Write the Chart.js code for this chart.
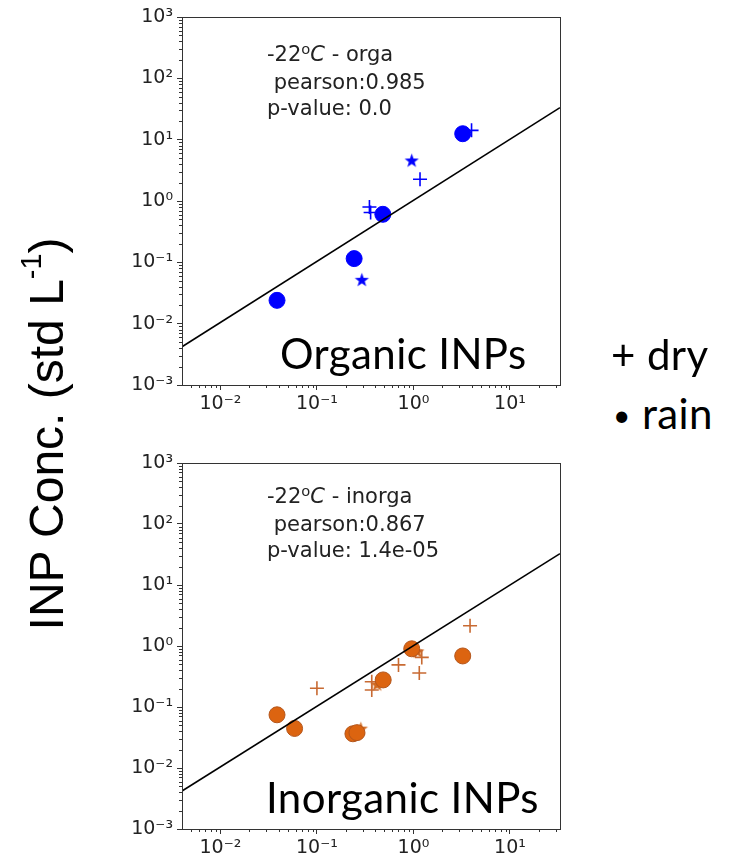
<!DOCTYPE html>
<html>
<head>
<meta charset="utf-8">
<script src="https://cdn.jsdelivr.net/npm/chart.js@4.4.1/dist/chart.umd.min.js"></script>
<style>
  html, body { margin: 0; padding: 0; background: #fff; overflow: hidden; }
  #page { position: relative; width: 735px; height: 862px; }
  canvas { position: absolute; left: 0; }
  .note { position: absolute; font-family: "DejaVu Sans", sans-serif; font-size: 21px; line-height: 26px; color: #222; white-space: pre; }
  .note sup { font-size: 70%; vertical-align: 0; position: relative; top: -0.5em; }
  .big { position: absolute; font-family: Lato, "Open Sans", sans-serif; font-size: 42px; line-height: 42px; letter-spacing: 0.4px; color: #000; white-space: pre; }
  #ytitle { position: absolute; font-family: "Liberation Sans", Arial, sans-serif; font-size: 48px; line-height: 48px; width: 520px; text-align: center; white-space: pre;
            left: -210px; top: 407px; transform: rotate(-90deg); transform-origin: 50% 50%; }
  #ytitle sup { font-size: 60%; vertical-align: 0; position: relative; top: -0.75em; }
  .bullet { font-size: 30px; position: relative; top: -3px; }
</style>
</head>
<body>
<div id="page">
  <canvas id="chartTop" width="600" height="418" style="top:0px"></canvas>
  <canvas id="chartBottom" width="600" height="416" style="top:446px"></canvas>

  <div class="note" style="left:267px; top:41px">-22<sup>o</sup><i>C</i> - orga
 pearson:0.985
p-value: 0.0</div>
  <div class="note" style="left:267px; top:483px">-22<sup>o</sup><i>C</i> - inorga
 pearson:0.867
p-value: 1.4e-05</div>

  <div class="big" style="left:280px; top:332px">Organic INPs</div>
  <div class="big" style="left:266px; top:776px">Inorganic INPs</div>
  <div class="big" style="left:611px; top:333px">+ dry</div>
  <div class="big" style="left:613px; top:392px"><span class="bullet">&bull;</span> rain</div>

  <div id="ytitle">INP Conc. (std L<sup>-1</sup>)</div>
</div>

<script>
// axis ranges and ticks
const xMin = 0.004, xMax = 33;
const yMin = 0.001, yMax = 1000;
const xTicks = [0.01, 0.1, 1, 10];
const yTicks = [0.001, 0.01, 0.1, 1, 10, 100, 1000];
const tickLabels = { '-3': '10⁻³', '-2': '10⁻²', '-1': '10⁻¹', '0': '10⁰', '1': '10¹', '2': '10²', '3': '10³' };

// organic panel (top)
const orgRainX = [0.0386, 0.243, 0.482, 3.24];
const orgRainY = [0.024, 0.115, 0.607, 12.5];
const orgDryX = [0.35, 0.36, 1.17, 4.0];
const orgDryY = [0.8, 0.65, 2.26, 14.2];
const orgStarX = [0.292, 0.96];
const orgStarY = [0.051, 4.49];
const orgFitX = [0.004, 33];
const orgFitY = [0.0042, 33.3];

// inorganic panel (bottom)
const inoRainX = [0.0386, 0.0587, 0.236, 0.26, 0.486, 0.96, 3.24];
const inoRainY = [0.0745, 0.0445, 0.0364, 0.038, 0.278, 0.9, 0.687];
const inoDryX = [0.10, 0.37, 0.37, 0.70, 1.05, 1.15, 1.22, 3.86];
const inoDryY = [0.203, 0.26, 0.19, 0.49, 0.85, 0.36, 0.65, 2.15];
const inoStarX = [0.285, 0.42, 1.1];
const inoStarY = [0.0434, 0.23, 0.8];
const inoFitX = [0.004, 33];
const inoFitY = [0.0042, 32.7];

function pts(xs, ys) {
    return xs.map((x, i) => ({ x: x, y: ys[i] }));
}

// filled five point star, like matplotlib '*'
function makeStar(color, r) {
    const c = document.createElement('canvas');
    c.width = c.height = Math.ceil(r * 2) + 2;
    const g = c.getContext('2d');
    const cx = c.width / 2, cy = c.height / 2;
    g.beginPath();
    for (let i = 0; i < 10; i++) {
        const rr = i % 2 === 0 ? r : r * 0.4;
        const a = -Math.PI / 2 + i * Math.PI / 5;
        g.lineTo(cx + rr * Math.cos(a), cy + rr * Math.sin(a));
    }
    g.closePath();
    g.fillStyle = color;
    g.fill();
    return c;
}

// box around plot + small log ticks
const frame = {
    id: 'frame',
    afterDraw(chart) {
        const ctx = chart.ctx, a = chart.chartArea;
        const sx = chart.scales.x, sy = chart.scales.y;
        ctx.save();
        ctx.strokeStyle = '#333';
        ctx.lineWidth = 1;
        ctx.beginPath();
        for (let e = -3; e <= 2; e++) {
            for (let m = 2; m <= 9; m++) {
                const v = m * Math.pow(10, e);
                if (v > sx.min && v < sx.max) {
                    const px = Math.round(sx.getPixelForValue(v)) + 0.5;
                    ctx.moveTo(px, a.bottom);
                    ctx.lineTo(px, a.bottom + 3);
                }
                if (v > sy.min && v < sy.max) {
                    const py = Math.round(sy.getPixelForValue(v)) + 0.5;
                    ctx.moveTo(a.left, py);
                    ctx.lineTo(a.left - 3, py);
                }
            }
        }
        ctx.stroke();
        ctx.strokeRect(Math.round(a.left) + 0.5, Math.round(a.top) + 0.5, Math.round(a.right - a.left), Math.round(a.bottom - a.top));
        ctx.restore();
    }
};

function makeChart(id, o) {
    const tickFont = { family: 'DejaVu Sans', size: 19 };
    return new Chart(document.getElementById(id), {
        type: 'scatter',
        data: {
            datasets: [
                { type: 'line', data: pts(o.fitX, o.fitY), borderColor: '#000', borderWidth: 1.6, pointRadius: 0, fill: false },
                { data: pts(o.rainX, o.rainY), pointStyle: 'circle', pointRadius: 8, backgroundColor: o.rainFill, borderColor: o.rainEdge, borderWidth: 1 },
                { data: pts(o.dryX, o.dryY), pointStyle: 'cross', pointRadius: 7, borderColor: o.dryColor, borderWidth: 1.6 },
                { data: pts(o.starX, o.starY), pointStyle: makeStar(o.starColor, 7.5), pointRadius: 7 }
            ]
        },
        options: {
            responsive: false,
            animation: false,
            layout: { padding: { top: 17, right: 40, left: 0, bottom: 0 } },
            plugins: { legend: { display: false }, tooltip: { enabled: false } },
            scales: {
                x: {
                    type: 'logarithmic', min: xMin, max: xMax,
                    afterBuildTicks: s => { s.ticks = xTicks.map(v => ({ value: v })); },
                    afterFit: s => { s.height = 33; },
                    ticks: { callback: v => tickLabels[String(Math.round(Math.log10(v)))], font: tickFont, color: '#222', padding: 3, maxRotation: 0, autoSkip: false },
                    grid: { drawOnChartArea: false, tickLength: 5, tickColor: '#333' },
                    border: { color: '#333' }
                },
                y: {
                    type: 'logarithmic', min: yMin, max: yMax,
                    afterBuildTicks: s => { s.ticks = yTicks.map(v => ({ value: v })); },
                    afterFit: s => { s.width = 182; },
                    ticks: { callback: v => tickLabels[String(Math.round(Math.log10(v)))], font: tickFont, color: '#222', padding: 4, autoSkip: false },
                    grid: { drawOnChartArea: false, tickLength: 5, tickColor: '#333' },
                    border: { color: '#333' }
                }
            }
        },
        plugins: [frame]
    });
}

makeChart('chartTop', {
    fitX: orgFitX, fitY: orgFitY,
    rainX: orgRainX, rainY: orgRainY, rainFill: '#0000ff', rainEdge: '#0000ff',
    dryX: orgDryX, dryY: orgDryY, dryColor: '#0000ff',
    starX: orgStarX, starY: orgStarY, starColor: '#0000ff'
});

makeChart('chartBottom', {
    fitX: inoFitX, fitY: inoFitY,
    rainX: inoRainX, rainY: inoRainY, rainFill: '#dc6410', rainEdge: '#b4561c',
    dryX: inoDryX, dryY: inoDryY, dryColor: '#c86a32',
    starX: inoStarX, starY: inoStarY, starColor: '#d2691e'
});
</script>
</body>
</html>
